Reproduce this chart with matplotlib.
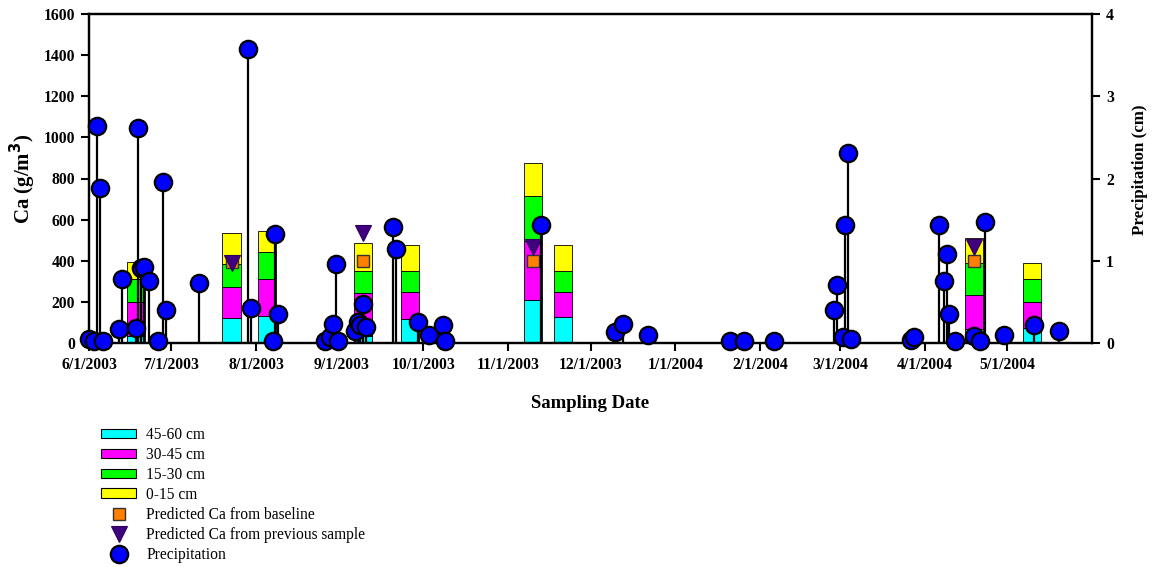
import matplotlib
matplotlib.use("Agg")
import matplotlib.pyplot as plt
from matplotlib.patches import Patch
from matplotlib.lines import Line2D
import pandas as pd

plt.rcParams['font.family'] = ['Liberation Serif', 'DejaVu Serif']

# ---- Data ----
bar_dates = ["2003-06-18", "2003-07-23", "2003-08-05", "2003-09-09", "2003-09-26",
             "2003-11-10", "2003-11-21", "2004-04-19", "2004-05-10"]
ca_45_60 = [35, 123, 131, 35, 117, 209, 125, 67, 71]
ca_30_45 = [166, 148, 180, 207, 133, 287, 125, 166, 127]
ca_15_30 = [109, 112, 130, 110, 102, 219, 100, 158, 112]
ca_0_15 = [85, 150, 104, 133, 125, 159, 127, 118, 81]

pred_dates = ["2003-07-23", "2003-09-09", "2003-11-10", "2004-04-19"]
pred_baseline = [395, 400, 400, 400]
pred_previous = [389, 535, 469, 469]

precip_dates = ["2003-06-01", "2003-06-03", "2003-06-04", "2003-06-05", "2003-06-06",
                "2003-06-12", "2003-06-13", "2003-06-18", "2003-06-19", "2003-06-20",
                "2003-06-21", "2003-06-23", "2003-06-26", "2003-06-28", "2003-06-29",
                "2003-07-11", "2003-07-29", "2003-07-30", "2003-08-07", "2003-08-08",
                "2003-08-09", "2003-08-26", "2003-08-28", "2003-08-29", "2003-08-30",
                "2003-08-31", "2003-09-06", "2003-09-07", "2003-09-08", "2003-09-09",
                "2003-09-10", "2003-09-20", "2003-09-21", "2003-09-29", "2003-10-03",
                "2003-10-08", "2003-10-09", "2003-11-13", "2003-12-10", "2003-12-13",
                "2003-12-22", "2004-01-21", "2004-01-26", "2004-02-06", "2004-02-28",
                "2004-02-29", "2004-03-02", "2004-03-03", "2004-03-04", "2004-03-05",
                "2004-03-27", "2004-03-28", "2004-04-06", "2004-04-08", "2004-04-09",
                "2004-04-10", "2004-04-12", "2004-04-19", "2004-04-21", "2004-04-23",
                "2004-04-30", "2004-05-11", "2004-05-20"]
precip_cm = [0.05, 0.02, 2.64, 1.88, 0.02,
             0.17, 0.78, 0.18, 2.62, 0.91,
             0.92, 0.75, 0.02, 1.96, 0.40,
             0.73, 3.58, 0.43, 0.02, 1.32,
             0.35, 0.02, 0.07, 0.23, 0.96,
             0.02, 0.14, 0.26, 0.22, 0.47,
             0.19, 1.41, 1.14, 0.25, 0.10,
             0.22, 0.02, 1.43, 0.13, 0.23,
             0.10, 0.02, 0.02, 0.02, 0.40,
             0.71, 0.07, 1.44, 2.31, 0.05,
             0.04, 0.07, 1.44, 0.75, 1.08,
             0.35, 0.02, 0.09, 0.02, 1.47,
             0.10, 0.22, 0.15]

xtick_labels = ["6/1/2003", "7/1/2003", "8/1/2003", "9/1/2003", "10/1/2003", "11/1/2003",
                "12/1/2003", "1/1/2004", "2/1/2004", "3/1/2004", "4/1/2004", "5/1/2004"]
ca_ticks = [0, 200, 400, 600, 800, 1000, 1200, 1400, 1600]
precip_ticks = [0, 1, 2, 3, 4]

layer_labels = ["45-60 cm", "30-45 cm", "15-30 cm", "0-15 cm"]
layer_colors = ["#00FFFF", "#FF00FF", "#00FF00", "#FFFF00"]

# ---- Figure ----
fig = plt.figure(figsize=(11.56, 5.67), dpi=100)
ax = fig.add_axes([89 / 1156, 1 - 343 / 567, (1092 - 89) / 1156, (343 - 14) / 567])
ax2 = ax.twinx()

bx = pd.to_datetime(bar_dates)
bottom = [0] * len(bx)
for vals, col in zip([ca_45_60, ca_30_45, ca_15_30, ca_0_15], layer_colors):
    ax.bar(bx, vals, width=6.6, bottom=bottom, color=col, edgecolor='black',
           linewidth=0.6, zorder=2)
    bottom = [b + v for b, v in zip(bottom, vals)]

px = pd.to_datetime(pred_dates)
ax.plot(px, pred_baseline, 's', ms=9, mfc='#FF8000', mec='#333333', mew=1.0, zorder=3,
        linestyle='none')
ax.plot(px, pred_previous, 'v', ms=11.5, mfc='#400080', mec='#300060', mew=0.8, zorder=4,
        linestyle='none')

rx = pd.to_datetime(precip_dates)
ax2.vlines(rx, 0, precip_cm, color='black', lw=1.6, zorder=2)
ax2.plot(rx, precip_cm, 'o', ms=12.5, mfc='#0000FF', mec='black', mew=1.6,
         linestyle='none', clip_on=False, zorder=3)

ax.set_xlim(pd.Timestamp("2003-06-01"), pd.Timestamp("2004-06-01"))
ax.set_ylim(0, 1600)
ax2.set_ylim(0, 4)

ax.set_xticks(pd.to_datetime(xtick_labels, format="%m/%d/%Y"))
ax.set_xticklabels(xtick_labels)
ax.set_yticks(ca_ticks)
ax.set_yticklabels([str(t) for t in ca_ticks])
ax2.set_yticks(precip_ticks)
ax2.set_yticklabels([str(t) for t in precip_ticks])

for a in (ax, ax2):
    a.tick_params(direction='out', length=6, width=1.5, labelsize=11.3, pad=4)
    for s in a.spines.values():
        s.set_linewidth(1.6)
for lab in ax.get_xticklabels() + ax.get_yticklabels() + ax2.get_yticklabels():
    lab.set_fontweight('bold')

ax.set_xlabel("Sampling Date", fontsize=13.5, fontweight='bold', labelpad=16)
ax.set_ylabel("Ca (g/m$^{\\mathbf{3}}$)", fontsize=15, fontweight='bold', labelpad=4)
ax2.set_ylabel("Precipitation (cm)", fontsize=12.2, fontweight='bold')
ax2.yaxis.set_label_coords((1132 - 89) / 1003, (343 - 170) / 329)

handles = [Patch(facecolor=c, edgecolor='black', linewidth=0.8) for c in layer_colors]
handles += [
    Line2D([], [], marker='s', ms=9, mfc='#FF8000', mec='#333333', mew=1.0, linestyle='none'),
    Line2D([], [], marker='v', ms=11.5, mfc='#400080', mec='#300060', mew=0.8, linestyle='none'),
    Line2D([], [], marker='o', ms=12.5, mfc='#0000FF', mec='black', mew=1.6, linestyle='none'),
]
labels = layer_labels + ["Predicted Ca from baseline", "Predicted Ca from previous sample",
                         "Precipitation"]
fig.legend(handles, labels, loc='upper left', bbox_to_anchor=(101 / 1156, 1 - 427 / 567),
           frameon=False, fontsize=11.2, handlelength=2.25, handleheight=0.6,
           handletextpad=0.65, labelspacing=0.255, borderpad=0, borderaxespad=0)

fig.savefig("out.png", dpi=100)
